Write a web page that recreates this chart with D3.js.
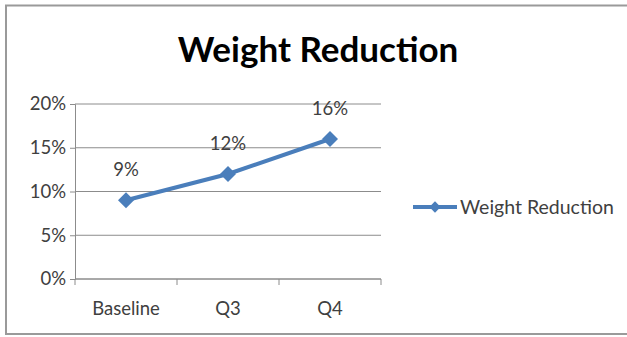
<!DOCTYPE html>
<html><head><meta charset="utf-8">
<script src="https://cdn.jsdelivr.net/npm/d3@7"></script>
<style>body{margin:0;background:#fff}svg{display:block}text{font-family:Lato,"Open Sans",sans-serif}</style>
</head><body>
<svg id="c" width="627" height="337"></svg>
<script>
const categories = ["Baseline", "Q3", "Q4"];
const seriesName = "Weight Reduction";
const values = [0.09, 0.12, 0.16];
const yTicks = [0, 0.05, 0.10, 0.15, 0.20];
const title = "Weight Reduction";

const svg = d3.select("#c");
const color = "#4a7ebb", txt = "#404040";

svg.append("rect").attr("x", 6).attr("y", 5.5).attr("width", 640).attr("height", 328.5)
  .attr("fill", "#fff").attr("stroke", "#9a9a9a").attr("stroke-width", 2);

svg.append("text").attr("x", 318).attr("y", 62).attr("text-anchor", "middle")
  .attr("font-size", 35).attr("font-weight", "bold").attr("fill", "#000").text(title);

const x = d3.scaleBand().domain(categories).range([75, 381]);
const y = d3.scaleLinear().domain([0, 0.20]).range([279, 104]);

const g = svg.append("g");
g.selectAll("line.grid").data(yTicks).join("line").attr("class", "grid")
  .attr("x1", 75).attr("x2", 381).attr("y1", d => y(d)).attr("y2", d => y(d))
  .attr("stroke", "#8c8c8c").attr("stroke-width", 1);

const yAxis = d3.axisLeft(y).tickValues(yTicks).tickFormat(d3.format(".0%")).tickSize(5).tickPadding(4);
const ya = svg.append("g").attr("transform", "translate(75,0)").call(yAxis);
ya.select(".domain").attr("stroke", "#8c8c8c");
ya.selectAll(".tick line").attr("stroke", "#8c8c8c");
ya.selectAll(".tick text").attr("font-size", 18.5).attr("fill", txt).attr("font-family", "Lato");

// x axis with ticks at band boundaries
const xa = svg.append("g").attr("transform", "translate(0,279)");
xa.append("line").attr("x1", 75).attr("x2", 381).attr("stroke", "#8c8c8c");
const bounds = [x.range()[0], ...categories.map(c => x(c) + x.bandwidth())];
xa.selectAll("line.t").data(bounds).join("line").attr("class", "t")
  .attr("x1", d => d).attr("x2", d => d).attr("y1", 0).attr("y2", 6).attr("stroke", "#8c8c8c");
xa.selectAll("text").data(categories).join("text")
  .attr("x", d => x(d) + x.bandwidth() / 2).attr("y", 36).attr("text-anchor", "middle")
  .attr("font-size", 18.5).attr("fill", txt).text(d => d);

const pts = categories.map((c, i) => [x(c) + x.bandwidth() / 2, y(values[i])]);
svg.append("path").attr("d", d3.line()(pts)).attr("fill", "none")
  .attr("stroke", color).attr("stroke-width", 4);
const diamond = d3.symbol().type(d3.symbolSquare).size(128);
svg.selectAll("path.m").data(pts).join("path").attr("class", "m")
  .attr("transform", d => `translate(${d[0]},${d[1]}) rotate(45)`).attr("d", diamond).attr("fill", color);
svg.selectAll("text.lbl").data(pts).join("text").attr("class", "lbl")
  .attr("x", d => d[0]).attr("y", d => d[1] - 24).attr("text-anchor", "middle")
  .attr("font-size", 18.5).attr("fill", txt).text((d, i) => d3.format(".0%")(values[i]));

// legend
const lg = svg.append("g").attr("transform", "translate(413,207)");
lg.append("line").attr("x1", 0).attr("x2", 44).attr("stroke", color).attr("stroke-width", 4);
lg.append("path").attr("transform", "translate(22,0) rotate(45)").attr("d", d3.symbol().type(d3.symbolSquare).size(64)).attr("fill", color);
lg.append("text").attr("x", 47).attr("y", 6.5).attr("font-size", 19.5).attr("fill", txt).text(seriesName);
</script>
</body></html>
